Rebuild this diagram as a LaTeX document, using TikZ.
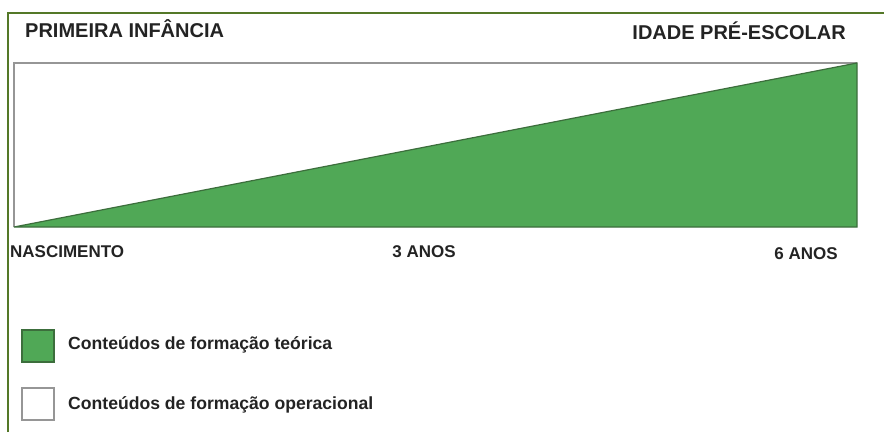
\documentclass[tikz,border=0pt]{standalone}
\usepackage{fontspec}
\setmainfont{Liberation Sans}
\definecolor{framegreen}{RGB}{84,120,40}
\definecolor{fillgreen}{RGB}{80,168,86}
\definecolor{edgegreen}{RGB}{60,110,60}
\definecolor{boxgray}{RGB}{150,150,150}
\definecolor{txt}{RGB}{35,35,35}
\tikzset{
  head/.style={font=\fontsize{20}{23}\selectfont\bfseries, text=txt, inner sep=0pt},
  axis/.style={font=\fontsize{17}{20}\selectfont\bfseries, text=txt, inner sep=0pt},
  leg/.style={font=\fontsize{17.6}{20}\selectfont\bfseries, text=txt, inner sep=0pt, anchor=west},
  swatch/.style={minimum width=32pt, minimum height=32pt, inner sep=0pt, draw=boxgray, line width=1.5pt}
}
\begin{document}
\begin{tikzpicture}[x=1pt,y=-1pt]
\useasboundingbox (0,0) rectangle (884,432);
% outer frame (top and left)
\draw[framegreen, line width=1.5pt] (8,432) -- (8,13) -- (884,13);
% main box
\coordinate (bl) at (14,227);
\coordinate (tr) at (857,63);
\coordinate (br) at (857,227);
\coordinate (tl) at (14,63);
\fill[white] (tl) rectangle (br);
\fill[fillgreen] (bl) -- (tr) -- (br) -- cycle;
\draw[boxgray, line width=1.5pt] (bl) -- (tl) -- (tr);
\draw[edgegreen, line width=1.2pt] (bl) -- (tr) -- (br) -- cycle;
% headings
\node[head, anchor=west] (pi) at (25,29) {PRIMEIRA INFÂNCIA};
\node[head, anchor=east] (ipe) at (846,31) {IDADE PRÉ-ESCOLAR};
% axis labels
\node[axis, anchor=west] (nasc) at (10,252) {NASCIMENTO};
\node[axis] (tres) at (424,252) {3 ANOS};
\node[axis] (seis) at (806,254) {6 ANOS};
% legend
\node[swatch, fill=fillgreen, draw=edgegreen] (sg) at (38,346) {};
\node[swatch, fill=white] (sw) at (38,404) {};
\node[leg] (lg) at (68,345) {Conteúdos de formação teórica};
\node[leg] (lw) at (68,405) {Conteúdos de formação operacional};
\end{tikzpicture}
\end{document}
